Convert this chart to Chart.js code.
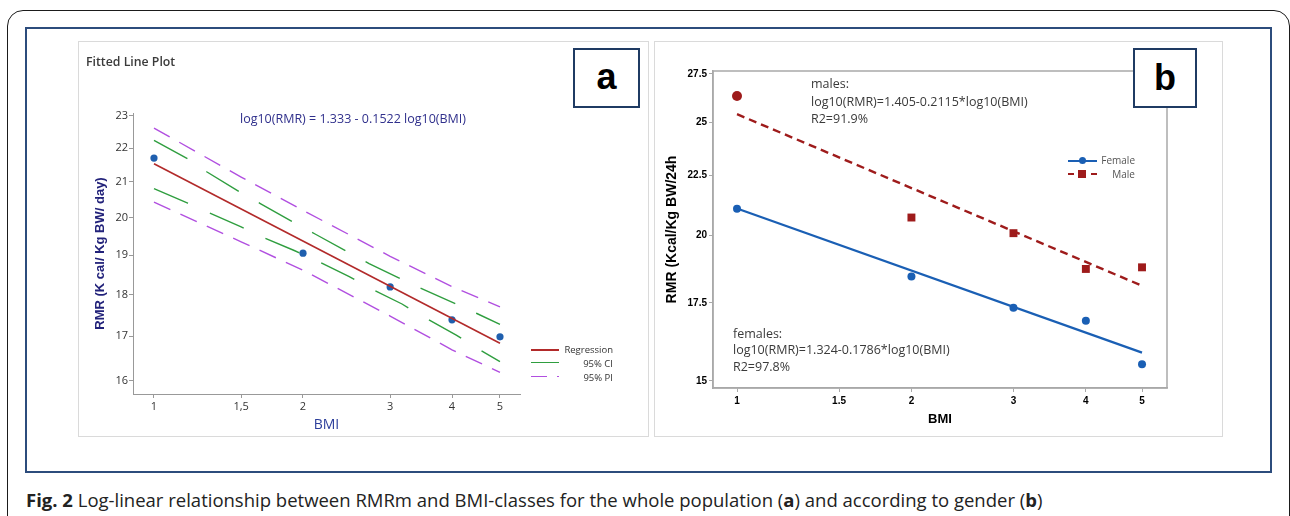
<!DOCTYPE html>
<html><head><meta charset="utf-8">
<script src="https://cdn.jsdelivr.net/npm/chart.js@4.4.1/dist/chart.umd.min.js"></script>
<style>
html,body{margin:0;padding:0;background:#fff;}
body{width:1290px;height:516px;overflow:hidden;position:relative;font-family:"Liberation Sans",Arial,sans-serif;}
.abs{position:absolute;}
#outer{left:7px;top:10px;width:1283px;height:540px;border:1.5px solid #1b1b1b;border-radius:16px;box-sizing:border-box;}
#inner{left:25px;top:27px;width:1247px;height:446px;border:2.5px solid #2c4c7c;box-sizing:border-box;}
.gbox{border:1.5px solid #dadada;box-sizing:border-box;top:41px;height:396px;}
.lab{border:2.5px solid #1f3b63;box-sizing:border-box;font:bold 36px "Liberation Sans",Arial,sans-serif;color:#000;text-align:center;background:#fff;z-index:3;}
.txt{white-space:nowrap;z-index:2;}
canvas{position:absolute;}
.sw{position:absolute;height:0;}
</style></head>
<body>
<div id="outer" class="abs"></div>
<div id="inner" class="abs"></div>
<div class="abs gbox" style="left:78px;width:571px;"></div>
<div class="abs gbox" style="left:654px;width:569px;"></div>
<canvas id="ca" width="570" height="395" style="left:78px;top:41px;"></canvas>
<canvas id="cb" width="567" height="395" style="left:655px;top:41px;"></canvas>

<div class="abs lab" style="left:573px;top:48px;width:67px;height:60px;line-height:54px;">a</div>
<div class="abs lab" style="left:1133px;top:48px;width:64px;height:60px;line-height:56px;">b</div>

<div class="abs txt" style="left:86px;top:54px;font:600 12.3px 'Open Sans',sans-serif;line-height:16px;color:#3a3a3a;">Fitted Line Plot</div>
<div class="abs txt" style="left:240px;top:111px;font:12.5px 'Open Sans',sans-serif;line-height:16px;color:#30308c;">log10(RMR) = 1.333 - 0.1522 log10(BMI)</div>

<!-- legend a -->
<div class="sw" style="left:531px;top:349px;width:28px;border-top:2px solid #b22a2a;z-index:2"></div>
<div class="sw" style="left:531px;top:362px;width:28px;border-top:1.5px solid #2f9e3f;z-index:2"></div>
<div class="sw" style="left:531px;top:376px;width:16px;border-top:1.5px solid #b14fe0;z-index:2"></div>
<div class="sw" style="left:557px;top:376px;width:2px;border-top:1.5px solid #b14fe0;z-index:2"></div>
<div class="abs txt" style="left:560px;width:53px;top:343px;text-align:right;font:9.5px 'Open Sans',sans-serif;line-height:14px;color:#333;">Regression<br>95% CI<br>95% PI</div>

<!-- legend b -->
<div class="sw" style="left:1068px;top:160px;width:29px;border-top:2px solid #1a5fb4;z-index:2"></div>
<div class="abs" style="left:1079px;top:157px;width:7px;height:7px;border-radius:50%;background:#1a5fb4;z-index:2"></div>
<div class="sw" style="left:1068px;top:173px;width:29px;border-top:2px dashed #9e1b1b;z-index:2"></div>
<div class="abs" style="left:1078px;top:170px;width:8px;height:8px;background:#9e1b1b;z-index:2"></div>
<div class="abs txt" style="left:1090px;width:45px;top:153px;text-align:right;font:10px 'Open Sans',sans-serif;line-height:14px;color:#555;">Female<br>Male</div>

<div class="abs txt" style="left:811px;top:75px;font:12.5px 'Open Sans',sans-serif;line-height:17.6px;color:#3a3a3a;">males:<br>log10(RMR)=1.405-0.2115*log10(BMI)<br>R2=91.9%</div>
<div class="abs txt" style="left:733px;top:326px;font:12.5px 'Open Sans',sans-serif;line-height:16.4px;color:#3a3a3a;">females:<br>log10(RMR)=1.324-0.1786*log10(BMI)<br>R2=97.8%</div>

<div class="abs txt" style="left:26px;top:489px;font:18.5px 'Open Sans',sans-serif;line-height:22px;color:#222;"><b>Fig. 2</b> Log-linear relationship between RMRm and BMI-classes for the whole population (<b>a</b>) and according to gender (<b>b</b>)</div>

<script>
// ---------- data: panel a (whole population) ----------
const bmiClasses = [1, 2, 3, 4, 5];
const rmrAll = [21.70, 19.05, 18.19, 17.39, 16.99];
const fitBmi = [1, 5];
const fitAll = [21.53, 16.84];
const ciBmi = [1, 1.17, 1.28, 1.5, 1.64, 1.92, 2.12, 2.48, 2.72, 3.17, 3.5, 4.08, 4.49, 5];
const ciUpper = [22.23, 21.68, 21.29, 20.69, 20.39, 19.86, 19.55, 19.06, 18.78, 18.38, 18.13, 17.77, 17.54, 17.28];
const ciLower = [20.81, 20.40, 20.16, 19.75, 19.50, 19.12, 18.87, 18.45, 18.17, 17.77, 17.46, 17.03, 16.73, 16.42];
const piBmi = [1, 1.5, 2, 3, 4, 5];
const piUpper = [22.61, 21.14, 20.20, 18.97, 18.20, 17.70];
const piLower = [20.43, 19.35, 18.61, 17.48, 16.69, 16.18];
const xTickValsA = [1, 1.5, 2, 3, 4, 5];
const xTickLabelsA = ["1", "1,5", "2", "3", "4", "5"];
const yTickValsA = [16, 17, 18, 19, 20, 21, 22, 23];
const yTickLabelsA = ["16", "17", "18", "19", "20", "21", "22", "23"];

// ---------- data: panel b (by gender) ----------
const femaleRmr = [21.07, 18.43, 17.33, 16.89, 15.50];
const maleRmr = [26.33, 20.71, 20.08, 18.71, 18.77];
const femaleFit = [21.08, 15.86];
const maleFit = [25.40, 18.10];
const xTickValsB = [1, 1.5, 2, 3, 4, 5];
const xTickLabelsB = ["1", "1.5", "2", "3", "4", "5"];
const yTickValsB = [15, 17.5, 20, 22.5, 25, 27.5];
const yTickLabelsB = ["15", "17.5", "20", "22.5", "25", "27.5"];

const pts = (xs, ys) => xs.map((x, i) => ({x: x, y: ys[i]}));
const setTicks = vals => (s => { s.ticks = vals.map(v => ({value: v})); });
const labelOf = (vals, labels) => (v => { const i = vals.indexOf(v); return i >= 0 ? labels[i] : ''; });

const common = {
  responsive: false, animation: false, devicePixelRatio: 1,
  plugins: {legend: {display: false}, tooltip: {enabled: false}},
};

// ---------- chart a ----------
new Chart(document.getElementById('ca'), {
  type: 'scatter',
  data: {datasets: [
    {data: pts(piBmi, piUpper), showLine: true, borderColor: '#b14fe0', borderWidth: 1.4, borderDash: [18, 11], pointRadius: 0},
    {data: pts(piBmi, piLower), showLine: true, borderColor: '#b14fe0', borderWidth: 1.4, borderDash: [18, 11], pointRadius: 0},
    {data: pts(ciBmi, ciUpper), showLine: true, borderColor: '#2f9e3f', borderWidth: 1.4, borderDash: [38, 23], pointRadius: 0},
    {data: pts(ciBmi, ciLower), showLine: true, borderColor: '#2f9e3f', borderWidth: 1.4, borderDash: [37, 24], pointRadius: 0},
    {data: pts(fitBmi, fitAll), showLine: true, borderColor: '#b22a2a', borderWidth: 1.6, pointRadius: 0},
    {data: pts(bmiClasses, rmrAll), showLine: false, pointRadius: 3.6, pointBackgroundColor: '#1f5fae', pointBorderWidth: 0}
  ]},
  options: Object.assign({}, common, {
    layout: {padding: {left: 0, top: 72, right: 128, bottom: 0}},
    scales: {
      x: {type: 'logarithmic', min: 0.907, max: 5.488,
        afterBuildTicks: setTicks(xTickValsA), afterFit: s => { s.height = 42; },
        grid: {display: true, drawOnChartArea: false, drawTicks: true, tickLength: 4, color: '#999'},
        border: {display: true, color: '#999', width: 1},
        ticks: {autoSkip: false, maxRotation: 0, padding: 2, color: '#333', font: {family: "'Open Sans',sans-serif", size: 11}, callback: labelOf(xTickValsA, xTickLabelsA)},
        title: {display: true, text: 'BMI', color: '#2b3d9a', font: {family: "'Open Sans',sans-serif", size: 14}, padding: {top: 0, bottom: 3}}
      },
      y: {type: 'logarithmic', min: 15.71, max: 23.08,
        afterBuildTicks: setTicks(yTickValsA), afterFit: s => { s.width = 55; },
        grid: {display: true, drawOnChartArea: false, drawTicks: true, tickLength: 4, color: '#999'},
        border: {display: true, color: '#999', width: 1},
        ticks: {autoSkip: false, padding: 1, color: '#333', font: {family: "'Open Sans',sans-serif", size: 11}, callback: labelOf(yTickValsA, yTickLabelsA)},
        title: {display: true, text: 'RMR (K cal/ Kg BW/ day)', color: '#22227a', font: {family: "'Liberation Sans',sans-serif", size: 13, weight: 'bold'}, padding: {top: 15, bottom: 0}}
      }
    }
  })
});

// ---------- chart b ----------
const frameB = {id: 'frameB', beforeDatasetsDraw(chart) {
  const {ctx, chartArea: a} = chart;
  ctx.save(); ctx.strokeStyle = '#a9a9a9'; ctx.lineWidth = 1.5;
  ctx.strokeRect(a.left, a.top, a.right - a.left, a.bottom - a.top); ctx.restore();
}};

new Chart(document.getElementById('cb'), {
  type: 'scatter',
  data: {datasets: [
    {label: 'Male fit', data: pts(fitBmi, maleFit), showLine: true, borderColor: '#9e1b1b', borderWidth: 2.4, borderDash: [8, 5], pointRadius: 0},
    {label: 'Female fit', data: pts(fitBmi, femaleFit), showLine: true, borderColor: '#1a5fb4', borderWidth: 2.2, pointRadius: 0},
    {label: 'Female', data: pts(bmiClasses, femaleRmr), showLine: false, pointRadius: 4, pointBackgroundColor: '#1a5fb4', pointBorderWidth: 0},
    {label: 'Male', data: pts(bmiClasses, maleRmr), showLine: false, pointStyle: ['circle', 'rect', 'rect', 'rect', 'rect'], pointRadius: [5, 5.6, 5.6, 5.6, 5.6], pointBackgroundColor: '#9e1b1b', pointBorderWidth: 0}
  ]},
  options: Object.assign({}, common, {
    layout: {padding: {left: 0, top: 30, right: 55, bottom: 0}},
    scales: {
      x: {type: 'logarithmic', min: 0.909, max: 5.522,
        afterBuildTicks: setTicks(xTickValsB), afterFit: s => { s.height = 48; },
        grid: {display: true, drawOnChartArea: false, drawTicks: true, tickLength: 4, color: '#a9a9a9'},
        border: {display: true, color: '#a9a9a9', width: 1.5},
        ticks: {autoSkip: false, maxRotation: 0, padding: 3, color: '#000', font: {family: "'Liberation Sans',sans-serif", size: 10, weight: 'bold'}, callback: labelOf(xTickValsB, xTickLabelsB)},
        title: {display: true, text: 'BMI', color: '#000', font: {family: "'Liberation Sans',sans-serif", size: 13, weight: 'bold'}, padding: {top: 0, bottom: 9}}
      },
      y: {type: 'logarithmic', min: 14.79, max: 27.66,
        afterBuildTicks: setTicks(yTickValsB), afterFit: s => { s.width = 58; },
        grid: {display: true, drawOnChartArea: false, drawTicks: true, tickLength: 4, color: '#a9a9a9'},
        border: {display: true, color: '#a9a9a9', width: 1.5},
        ticks: {autoSkip: false, padding: 2, color: '#000', font: {family: "'Liberation Sans',sans-serif", size: 10, weight: 'bold'}, callback: labelOf(yTickValsB, yTickLabelsB)},
        title: {display: true, text: 'RMR (Kcal/Kg BW/24h', color: '#000', font: {family: "'Liberation Sans',sans-serif", size: 14, weight: 'bold'}, padding: {top: 9, bottom: 0}}
      }
    }
  }),
  plugins: [frameB]
});
</script>
</body></html>
